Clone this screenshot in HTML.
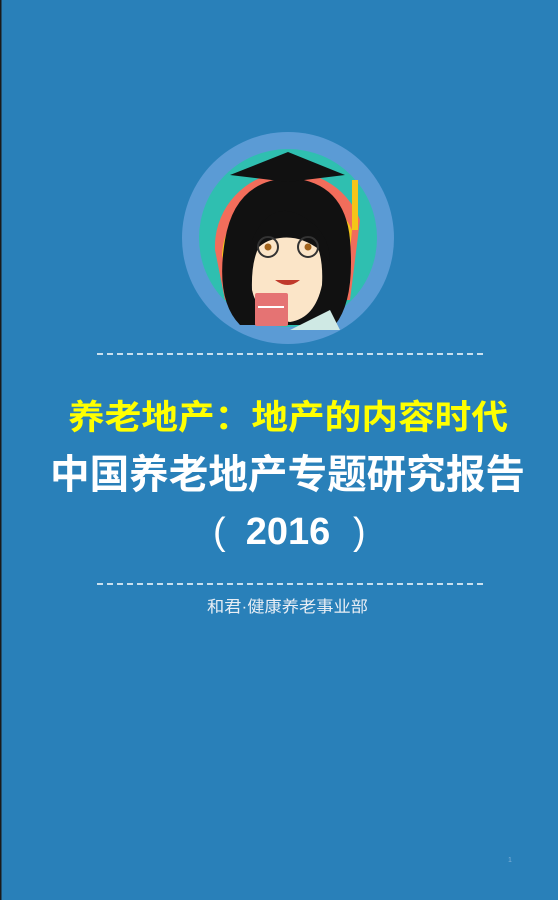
<!DOCTYPE html>
<html><head><meta charset="utf-8"><style>
html,body{margin:0;padding:0;width:558px;height:900px;overflow:hidden;background:#2980b9}
svg{display:block}
text{font-family:"Liberation Sans","Noto Sans CJK SC",sans-serif}
</style></head><body>
<svg width="558" height="900" viewBox="0 0 558 900">
<rect x="0" y="0" width="558" height="900" fill="#2980b9"/>
<rect x="0" y="0" width="1.5" height="900" fill="#1a1a1a"/>
<g>
<circle cx="288" cy="238" r="106" fill="#5b9bd5"/>
<circle cx="288" cy="238" r="89" fill="#2fbfb0"/>
<path d="M215 250 A75 75 0 0 1 360 220 L350 300 L225 300Z" fill="#f26d5b"/>
<path d="M222 255 A68 68 0 0 1 352 230 L345 300 L232 300Z" fill="#f5c518"/>
<path d="M240 325 Q215 300 225 240 Q235 180 290 178 Q345 182 350 240 Q355 300 335 325Z" fill="#111"/>
<path d="M252 290 Q250 230 290 225 Q325 230 322 285 Q315 318 290 322 Q258 318 252 290Z" fill="#fbe5c8"/>
<path d="M252 240 Q270 200 300 215 Q330 230 330 262 L320 250 Q300 235 280 238 Q262 240 252 255Z" fill="#111"/>
<circle cx="268" cy="247" r="10" fill="none" stroke="#333" stroke-width="2"/>
<circle cx="308" cy="247" r="10" fill="none" stroke="#333" stroke-width="2"/>
<circle cx="268" cy="247" r="3.5" fill="#a0621c"/><circle cx="308" cy="247" r="3.5" fill="#a0621c"/>
<path d="M275 280 Q288 290 300 280" fill="#c0392b"/>
<path d="M230 175 L288 152 L345 175 L288 182Z" fill="#111"/>
<rect x="352" y="180" width="6" height="50" fill="#f5c518"/>
<path d="M290 330 L330 310 L340 330Z" fill="#cfe9e4"/>
<rect x="255" y="293" width="33" height="33" fill="#e57373" rx="2"/>
<rect x="258" y="306" width="26" height="2" fill="#fff"/>
</g>
<line x1="97" y1="354" x2="485" y2="354" stroke="#fff" stroke-width="1.5" stroke-dasharray="6,4"/>
<text x="68" y="429" textLength="440" lengthAdjust="spacingAndGlyphs" font-size="34" font-weight="bold" fill="#ffff00">养老地产：地产的内容时代</text>
<text x="50" y="488" textLength="475" lengthAdjust="spacingAndGlyphs" font-size="40" font-weight="bold" fill="#fff">中国养老地产专题研究报告</text>
<g>
<text x="213" y="544" font-size="38" fill="#fff">(</text>
<text x="288" y="544" text-anchor="middle" font-size="38" font-weight="bold" fill="#fff">2016</text>
<text x="353" y="544" font-size="38" fill="#fff">)</text>
</g>
<line x1="97" y1="584" x2="485" y2="584" stroke="#fff" stroke-width="1.5" stroke-dasharray="6,4"/>
<text x="207" y="612" textLength="161" lengthAdjust="spacingAndGlyphs" font-size="16" fill="#e8eef5">和君·健康养老事业部</text>
<text x="508" y="862" font-size="7" fill="#7fb0d8">1</text>
</svg>
</body></html>
